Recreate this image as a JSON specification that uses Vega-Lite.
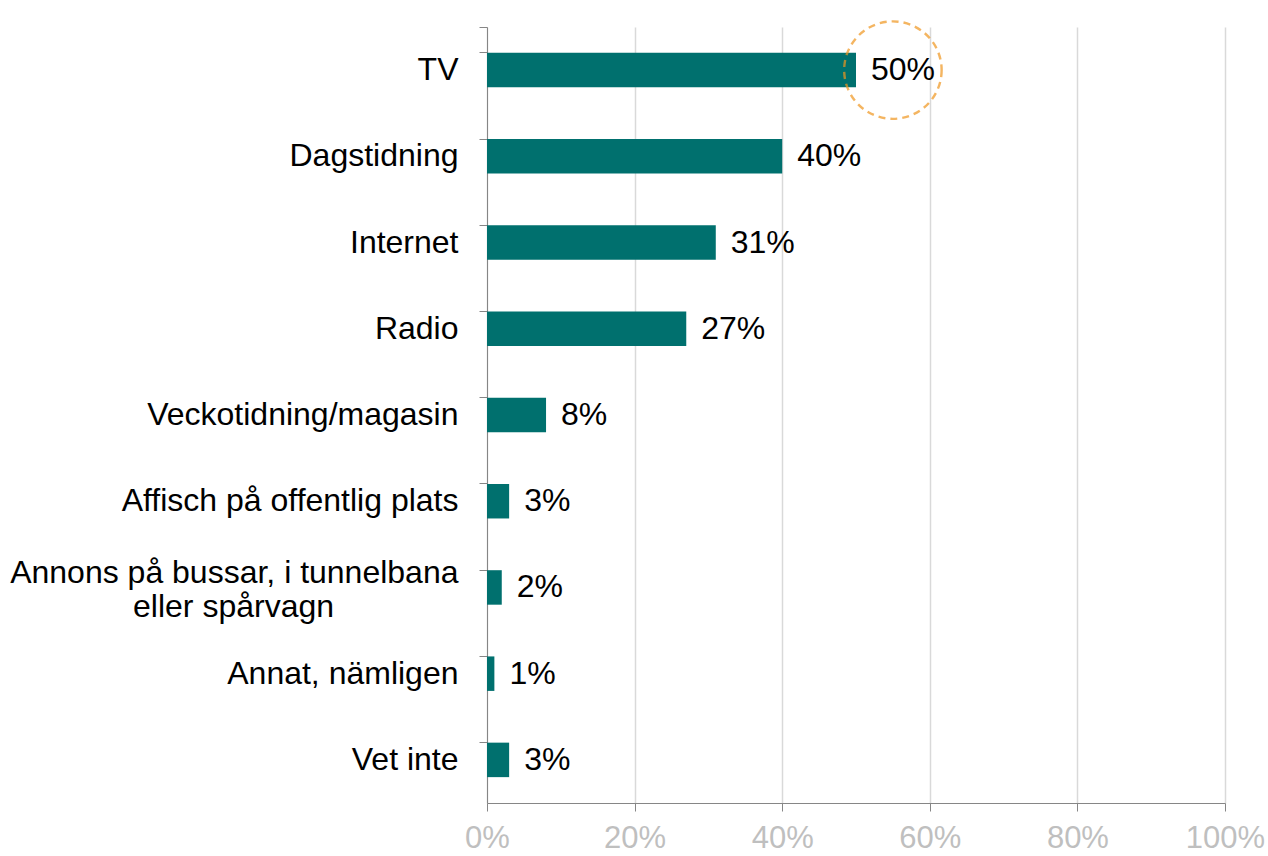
{
  "$schema": "https://vega.github.io/schema/vega-lite/v6.json",
  "autosize": {"type": "none"},
  "padding": {"left": 487, "top": 27, "right": 43, "bottom": 53},
  "width": 738,
  "height": 776,
  "background": "white",
  "config": {
    "view": {"stroke": null},
    "font": "Liberation Sans"
  },
  "datasets": {
    "main": [
      {"category": "TV", "value": 50},
      {"category": "Dagstidning", "value": 40},
      {"category": "Internet", "value": 31},
      {"category": "Radio", "value": 27},
      {"category": "Veckotidning/magasin", "value": 8},
      {"category": "Affisch på offentlig plats", "value": 3},
      {"category": "Annons på bussar, i tunnelbana eller spårvagn", "value": 2},
      {"category": "Annat, nämligen", "value": 1},
      {"category": "Vet inte", "value": 3}
    ],
    "highlight": [
      {"category": "TV", "center": 55}
    ]
  },
  "layer": [
    {
      "data": {"name": "main"},
      "mark": {"type": "bar", "color": "#00706E"},
      "encoding": {
        "y": {
          "field": "category",
          "type": "nominal",
          "sort": null,
          "scale": {"paddingInner": 0.6, "paddingOuter": 0.3},
          "axis": {
            "title": null,
            "bandPosition": 0,
            "tickExtra": true,
            "domainColor": "#868686",
            "tickColor": "#868686",
            "tickSize": 8,
            "labelFontSize": 32,
            "labelColor": "#000000",
            "labelPadding": 21,
            "labelLimit": 600,
            "labelLineHeight": 34,
            "labelOffset": {"condition": {"test": "datum.value == 'Annons på bussar, i tunnelbana eller spårvagn'", "value": -14}, "value": 0},
            "grid": false,
            "labelExpr": "datum.value == 'Annons på bussar, i tunnelbana eller spårvagn' ? ['Annons på bussar, i tunnelbana', 'eller spårvagn\u00a0\u00a0\u00a0\u00a0\u00a0\u00a0\u00a0\u00a0\u00a0\u00a0\u00a0\u00a0\u00a0\u00a0\u200b'] : datum.value"
          }
        },
        "x": {
          "field": "value",
          "type": "quantitative",
          "scale": {"domain": [0, 100], "nice": false},
          "axis": {
            "title": null,
            "values": [0, 20, 40, 60, 80, 100],
            "labelExpr": "datum.value + '%'",
            "labelFlush": false,
            "domainColor": "#868686",
            "tickColor": "#868686",
            "tickSize": 8,
            "labelFontSize": 31,
            "labelColor": "#BFBFBF",
            "labelPadding": 12,
            "grid": true,
            "gridColor": "#D9D9D9",
            "gridWidth": 1.5
          }
        }
      }
    },
    {
      "data": {"name": "main"},
      "transform": [{"calculate": "datum.value + '%'", "as": "label"}],
      "mark": {"type": "text", "align": "left", "baseline": "middle", "dx": 15, "fontSize": 32, "color": "#000000"},
      "encoding": {
        "y": {"field": "category", "type": "nominal", "sort": null},
        "x": {"field": "value", "type": "quantitative"},
        "text": {"field": "label", "type": "nominal"}
      }
    },
    {
      "data": {"name": "highlight"},
      "mark": {"type": "point", "shape": "circle", "filled": false, "size": 9500, "stroke": "#F0961F", "strokeWidth": 2.4, "strokeDash": [7, 5]},
      "encoding": {
        "y": {"field": "category", "type": "nominal", "sort": null},
        "x": {"field": "center", "type": "quantitative"}
      }
    }
  ]
}
